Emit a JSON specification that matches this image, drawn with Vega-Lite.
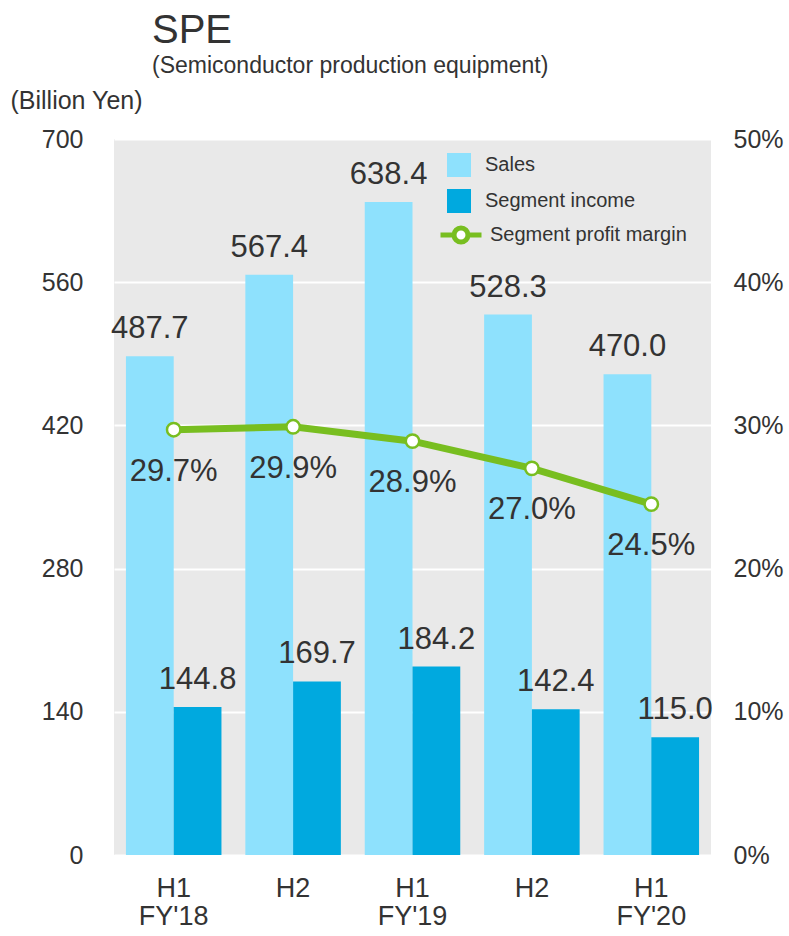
{
  "$schema": "https://vega.github.io/schema/vega-lite/v6.json",
  "autosize": {"type": "none"},
  "padding": {"left": 114, "top": 139, "right": 78, "bottom": 81},
  "width": 597,
  "height": 716,
  "title": {
    "text": "SPE",
    "subtitle": "(Semiconductor production equipment)",
    "anchor": "start",
    "frame": "group",
    "dx": 38,
    "fontSize": 40,
    "fontWeight": "normal",
    "color": "#333333",
    "subtitleFontSize": 23,
    "subtitleColor": "#333333",
    "subtitlePadding": 4,
    "offset": 10
  },
  "datasets": {
    "bars": [
      {"period": "H1|FY'18", "series": "Sales", "value": 487.7},
      {"period": "H1|FY'18", "series": "Segment income", "value": 144.8},
      {"period": "H2|FY'18", "series": "Sales", "value": 567.4},
      {"period": "H2|FY'18", "series": "Segment income", "value": 169.7},
      {"period": "H1|FY'19", "series": "Sales", "value": 638.4},
      {"period": "H1|FY'19", "series": "Segment income", "value": 184.2},
      {"period": "H2|FY'19", "series": "Sales", "value": 528.3},
      {"period": "H2|FY'19", "series": "Segment income", "value": 142.4},
      {"period": "H1|FY'20", "series": "Sales", "value": 470.0},
      {"period": "H1|FY'20", "series": "Segment income", "value": 115.0}
    ],
    "margin": [
      {"period": "H1|FY'18", "margin": 0.297},
      {"period": "H2|FY'18", "margin": 0.299},
      {"period": "H1|FY'19", "margin": 0.289},
      {"period": "H2|FY'19", "margin": 0.270},
      {"period": "H1|FY'20", "margin": 0.245}
    ]
  },
  "encoding": {
    "x": {
      "field": "period",
      "type": "nominal",
      "sort": ["H1|FY'18", "H2|FY'18", "H1|FY'19", "H2|FY'19", "H1|FY'20"],
      "scale": {"paddingInner": 0.2, "paddingOuter": 0.1},
      "axis": {
        "title": null,
        "labelAngle": 0,
        "labelExpr": "indexof(datum.label, 'H2') == 0 ? 'H2' : split(datum.label, '|')",
        "labelFontSize": 27,
        "labelColor": "#333333",
        "labelPadding": 20,
        "labelBaseline": "top",
        "labelLineHeight": 28,
        "ticks": false,
        "domain": false,
        "grid": false
      }
    }
  },
  "layer": [
    {
      "data": {"name": "bars"},
      "encoding": {
        "y": {
          "field": "value",
          "type": "quantitative",
          "scale": {"domain": [0, 700], "nice": false},
          "axis": {
            "orient": "left",
            "values": [0, 140, 280, 420, 560, 700],
            "title": "(Billion Yen)",
            "titleAngle": 0,
            "titleAlign": "left",
            "titleBaseline": "alphabetic",
            "titleX": -104,
            "titleY": -31,
            "titleFontSize": 25,
            "titleFontWeight": "normal",
            "titleColor": "#333333",
            "labelFontSize": 25,
            "labelColor": "#333333",
            "labelPadding": 31,
            "ticks": false,
            "domain": false,
            "grid": true,
            "gridColor": "#ffffff",
            "gridWidth": 2
          }
        },
        "xOffset": {"field": "series", "type": "nominal", "sort": ["Sales", "Segment income"], "scale": {"paddingInner": 0, "paddingOuter": 0}}
      },
      "layer": [
        {
          "mark": {"type": "bar"},
          "encoding": {
            "color": {
              "field": "series",
              "type": "nominal",
              "scale": {"domain": ["Sales", "Segment income"], "range": ["#8ee1fd", "#00a9df"]},
              "legend": {
                "orient": "none",
                "legendX": 333,
                "legendY": 14,
                "title": null,
                "symbolType": "square",
                "symbolSize": 576,
                "symbolStrokeWidth": 0,
                "labelFontSize": 20,
                "labelColor": "#333333",
                "labelOffset": 14,
                "labelLimit": 300,
                "rowPadding": 12,
                "padding": 0
              }
            }
          }
        },
        {
          "mark": {"type": "text", "baseline": "alphabetic", "dy": -18, "fontSize": 31, "color": "#333333"},
          "encoding": {
            "text": {"field": "value", "type": "quantitative", "format": ".1f"}
          }
        }
      ]
    },
    {
      "data": {"name": "margin"},
      "encoding": {
        "y": {
          "field": "margin",
          "type": "quantitative",
          "scale": {"domain": [0, 0.5], "nice": false},
          "axis": {
            "orient": "right",
            "values": [0, 0.1, 0.2, 0.3, 0.4, 0.5],
            "format": ".0%",
            "title": null,
            "labelFontSize": 25,
            "labelColor": "#333333",
            "labelPadding": 22,
            "labelAlign": "left",
            "ticks": false,
            "domain": false,
            "grid": false
          }
        }
      },
      "layer": [
        {
          "mark": {"type": "line", "strokeWidth": 7},
          "encoding": {
            "stroke": {
              "datum": "Segment profit margin",
              "type": "nominal",
              "scale": {"domain": ["Segment profit margin"], "range": ["#78be20"]},
              "legend": {
                "orient": "none",
                "legendX": 324,
                "legendY": 73,
                "title": null,
                "symbolType": "M-1,0L-0.34,0M0.34,0L1,0M-0.34,0A0.34,0.34,0,1,0,0.34,0A0.34,0.34,0,1,0,-0.34,0Z",
                "symbolSize": 1681,
                "labelFontSize": 20,
                "labelColor": "#333333",
                "labelOffset": 6,
                "labelLimit": 300,
                "padding": 0,
                "encode": {
                  "symbols": {
                    "update": {
                      "fill": {"value": "#ffffff"},
                      "stroke": {"value": "#78be20"},
                      "strokeWidth": {"value": 5},
                      "opacity": {"value": 1}
                    }
                  }
                }
              }
            }
          }
        },
        {
          "mark": {"type": "point", "shape": "circle", "filled": true, "fill": "#ffffff", "stroke": "#78be20", "strokeWidth": 2.5, "size": 180, "opacity": 1}
        },
        {
          "mark": {"type": "text", "baseline": "alphabetic", "dy": 51, "fontSize": 31, "color": "#333333"},
          "encoding": {
            "text": {"field": "margin", "type": "quantitative", "format": ".1%"}
          }
        }
      ]
    }
  ],
  "resolve": {"scale": {"y": "independent"}, "axis": {"y": "independent"}},
  "config": {
    "font": "Liberation Sans",
    "view": {"stroke": null, "fill": "#e9e9e9"},
    "background": "#ffffff"
  }
}
